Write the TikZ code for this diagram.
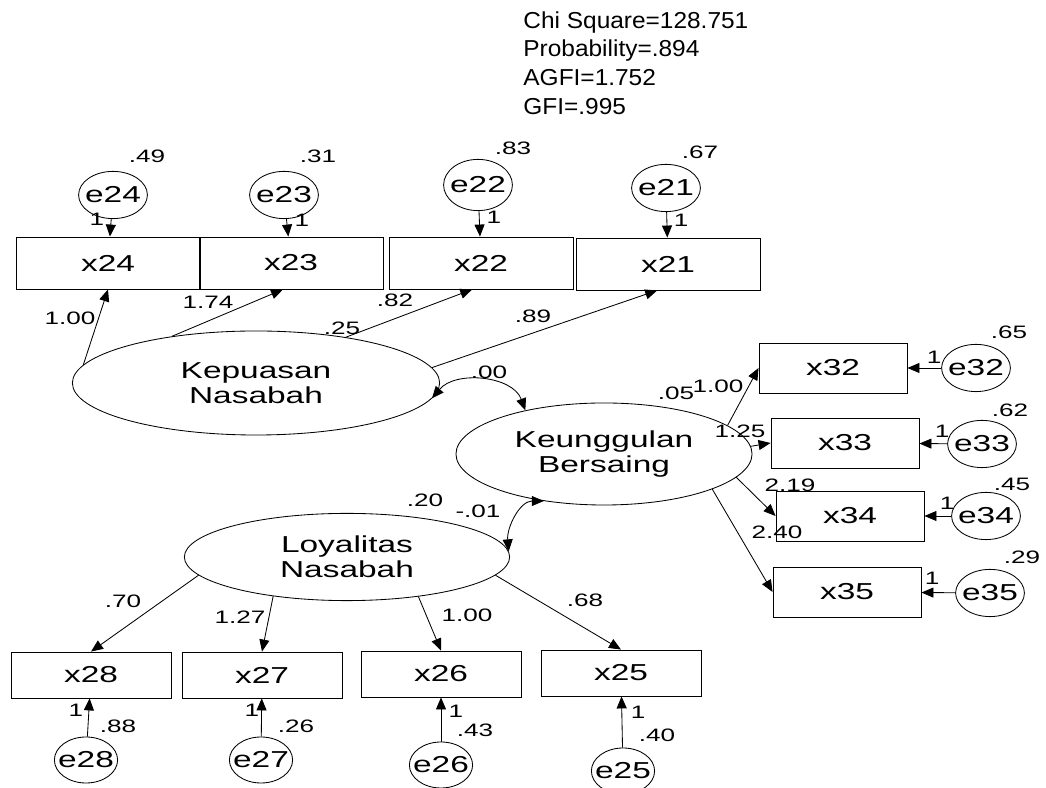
\documentclass[tikz,border=0pt]{standalone}
\usepackage{fontspec}
\setmainfont{Liberation Sans}[FakeStretch=1.06]
\newfontfamily\amosfont{Liberation Sans}[FakeStretch=1.45]
\newcommand\nodefont{\amosfont\fontsize{16.4}{17.8}\selectfont}
\newcommand\labfont{\amosfont\fontsize{12.8}{14}\selectfont}
\usetikzlibrary{shapes.geometric,arrows.meta}
\begin{document}
\begin{tikzpicture}[x=0.025cm, y=0.025cm, line width=0.6pt,
  >={Triangle[length=0.3cm,width=0.25cm]},
  obs/.style={draw, rectangle, font=\nodefont},
  lat/.style={draw, ellipse, align=center, font=\nodefont},
  err/.style={draw, ellipse, inner xsep=-0.15cm, inner ysep=0pt, minimum width=1.72cm, minimum height=1.18cm, font=\nodefont},
  num/.style={inner sep=0pt, font=\labfont}]
\clip (0,0) rectangle (1046,788);
\node (fit) [anchor=west, align=left, inner sep=0pt, font=\fontsize{16.4}{20.4}\selectfont] at (523,725) {Chi Square=128.751\\Probability=.894\\AGFI=1.752\\GFI=.995};
% indikator kepuasan
\node (x24) [obs, minimum width=4.6cm, minimum height=1.3cm] at (108,525) {x24};
\node (x23) [obs, minimum width=4.6cm, minimum height=1.3cm] at (291,525) {x23};
\node (x22) [obs, minimum width=4.6cm, minimum height=1.3cm] at (481,525) {x22};
\node (x21) [obs, minimum width=4.6cm, minimum height=1.3cm] at (668,524) {x21};
\node (e24) [err] at (113,593) {e24};
\node (e23) [err] at (284,593) {e23};
\node (e22) [err, minimum height=1.28cm] at (478,603) {e22};
\node (e21) [err] at (666,600) {e21};
% variabel laten
\node (kep) [lat, minimum width=9.18cm, minimum height=2.6cm] at (256,405) {Kepuasan\\Nasabah};
\node (keu) [lat, minimum width=7.4cm, minimum height=2.55cm] at (604,334) {Keunggulan\\Bersaing};
\node (loy) [lat, minimum width=8.13cm, minimum height=2.18cm] at (347,231) {Loyalitas\\Nasabah};
% indikator keunggulan
\node (x32) [obs, minimum width=3.7cm, minimum height=1.25cm] at (833,420) {x32};
\node (x33) [obs, minimum width=3.7cm, minimum height=1.25cm] at (845,345) {x33};
\node (x34) [obs, minimum width=3.7cm, minimum height=1.25cm] at (850,272) {x34};
\node (x35) [obs, minimum width=3.7cm, minimum height=1.25cm] at (847,196) {x35};
\node (e32) [err] at (976,420) {e32};
\node (e33) [err] at (982,344) {e33};
\node (e34) [err] at (986,272) {e34};
\node (e35) [err] at (990,195) {e35};
% indikator loyalitas
\node (x28) [obs, minimum width=4cm, minimum height=1.15cm] at (91,113) {x28};
\node (x27) [obs, minimum width=4cm, minimum height=1.15cm] at (262,113) {x27};
\node (x26) [obs, minimum width=4cm, minimum height=1.15cm] at (441,114) {x26};
\node (x25) [obs, minimum width=4cm, minimum height=1.15cm] at (621,115) {x25};
\node (e28) [err, minimum width=1.58cm, minimum height=1.15cm] at (86,28) {e28};
\node (e27) [err, minimum width=1.58cm, minimum height=1.15cm] at (261,28) {e27};
\node (e26) [err, minimum width=1.58cm, minimum height=1.15cm] at (441,23) {e26};
\node (e25) [err, minimum width=1.58cm, minimum height=1.15cm] at (623,17) {e25};
% panah
\draw[->] (e24) -- (x24);
\draw[->] (e23) -- (x23);
\draw[->] (e22) -- (x22);
\draw[->] (e21) -- (x21);
\draw[->] (kep.174) -- (x24.south);
\draw[->] (kep.151) -- ([xshift=-0.2cm]x23.south);
\draw[->] (kep.27) -- ([xshift=-0.22cm]x22.south);
\draw[->] (kep.5.5) -- ([xshift=-0.27cm]x21.south);
\draw[->] (keu.13) -- (x32.west);
\draw[->] (keu.3.5) -- (x33.west);
\draw[->] (keu.-10) -- (x34.west);
\draw[->] (keu.-18) -- (x35.west);
\draw[->] (e32) -- (x32);
\draw[->] (e33) -- (x33);
\draw[->] (e34) -- (x34);
\draw[->] (e35) -- (x35);
\draw[->] (loy.187) -- (x28.north);
\draw[->] (loy.208) -- (x27.north);
\draw[->] (loy.-29) -- (x26.north);
\draw[->] (loy.-7) -- (x25.north);
\draw[->] (e28) -- (x28);
\draw[->] (e27) -- (x27);
\draw[->] (e26) -- (x26);
\draw[->] (e25) -- (x25);
\draw[<->] (kep.-5) to[out=50, in=110] (keu.151);
\draw[<->] (loy.2.5) to[out=95, in=180] (keu.218);
% angka
\node (v24) [num] at (147,632) {.49};
\node (v23) [num] at (318,632) {.31};
\node (v22) [num] at (513,640) {.83};
\node (v21) [num] at (700,636) {.67};
\node (w24) [num] at (97,569) {1};
\node (w23) [num] at (302,568) {1};
\node (w22) [num] at (494,571) {1};
\node (w21) [num] at (681,568) {1};
\node (l24) [num] at (70,470) {1.00};
\node (l23) [num] at (208,486) {1.74};
\node (l22) [num] at (395,488) {.82};
\node (l21) [num] at (533,472) {.89};
\node (vkep) [num] at (342,460) {.25};
\node (ckk) [num] at (489,416) {.00};
\node (vkeu) [num] at (676,395) {.05};
\node (l32) [num] at (718,402) {1.00};
\node (l33) [num] at (740,357) {1.25};
\node (l34) [num] at (790,303) {2.19};
\node (l35) [num] at (777,256) {2.40};
\node (w32) [num] at (934,431) {1};
\node (w33) [num] at (942,357) {1};
\node (w34) [num] at (947,285) {1};
\node (w35) [num] at (932,210) {1};
\node (v32) [num] at (1009,456) {.65};
\node (v33) [num] at (1010,378) {.62};
\node (v34) [num] at (1012,304) {.45};
\node (v35) [num] at (1022,231) {.29};
\node (vloy) [num] at (425,288) {.20};
\node (clk) [num] at (478,277) {-.01};
\node (l28) [num] at (123,187) {.70};
\node (l27) [num] at (240,171) {1.27};
\node (l26) [num] at (467,173) {1.00};
\node (l25) [num] at (585,188) {.68};
\node (w28) [num] at (76,78) {1};
\node (w27) [num] at (252,78) {1};
\node (w26) [num] at (456,77) {1};
\node (w25) [num] at (638,76) {1};
\node (v28) [num] at (118,62) {.88};
\node (v27) [num] at (296,62) {.26};
\node (v26) [num] at (475,58) {.43};
\node (v25) [num] at (657,53) {.40};
\end{tikzpicture}
\end{document}
